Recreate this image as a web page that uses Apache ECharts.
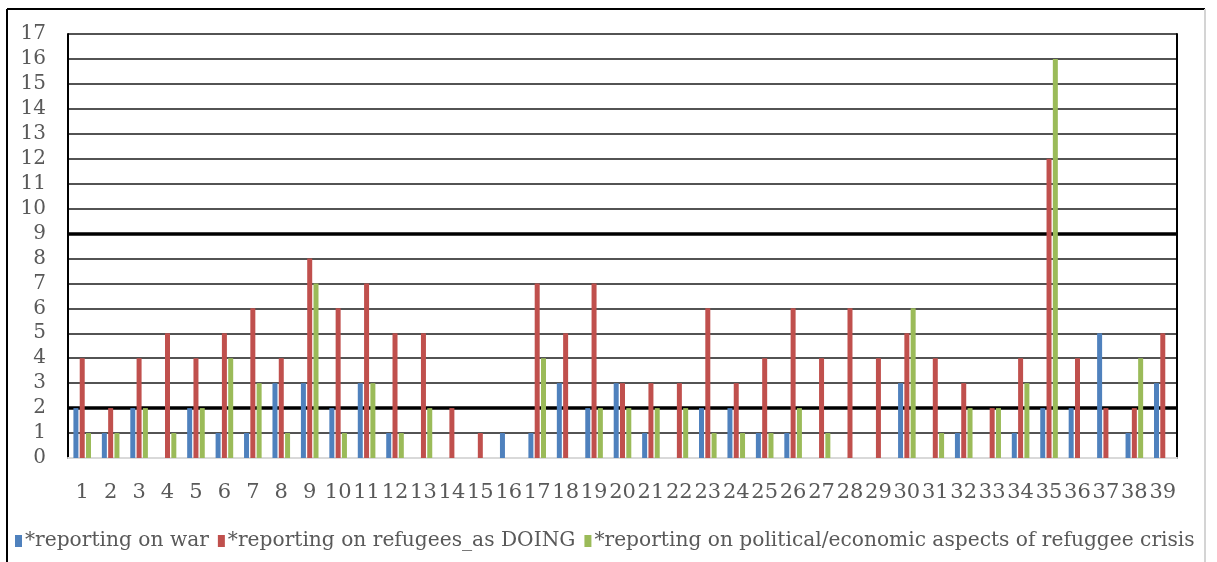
<!DOCTYPE html>
<html>
<head>
<meta charset="utf-8">
<script src="https://cdn.jsdelivr.net/npm/echarts@6/dist/echarts.min.js"></script>
<style>
html,body{margin:0;padding:0;background:#fff;}
#chart{width:1217px;height:562px;}
</style>
</head>
<body>
<div id="chart"></div>
<script>
var categories = ['1','2','3','4','5','6','7','8','9','10','11','12','13','14','15','16','17','18','19','20','21','22','23','24','25','26','27','28','29','30','31','32','33','34','35','36','37','38','39'];
var seriesNames = ['*reporting on war', '*reporting on refugees_as DOING', '*reporting on political/economic aspects of refuggee crisis'];
var war      = [2,1,2,0,2,1,1,3,3,2,3,1,0,0,0,1,1,3,2,3,1,0,2,2,1,1,0,0,0,3,0,1,0,1,2,2,5,1,3];
var doing    = [4,2,4,5,4,5,6,4,8,6,7,5,5,2,1,0,7,5,7,3,3,3,6,3,4,6,4,6,4,5,4,3,2,4,12,4,2,2,5];
var political= [1,1,2,1,2,4,3,1,7,1,3,1,2,0,0,0,4,0,2,2,2,2,1,1,1,2,1,0,0,6,1,2,2,3,16,0,0,4,0];
var yTicks = {min: 0, max: 17, interval: 1};
var thickLines = [2, 9];

var fontFam = 'DejaVu Serif';
var chart = echarts.init(document.getElementById('chart'));
function bar(name, data, color, withMark) {
  var s = {
    name: name, type: 'bar', data: data, barWidth: 5, barGap: '26%',
    itemStyle: {color: color}, z: 3
  };
  if (withMark) {
    s.markLine = {
      silent: true, symbol: 'none', z: 1,
      label: {show: false},
      lineStyle: {color: '#000', width: 3.5, type: 'solid'},
      data: thickLines.map(function (v) { return {yAxis: v}; })
    };
  }
  return s;
}
chart.setOption({
  animation: false,
  backgroundColor: '#fff',
  grid: {left: 68, right: 40, top: 34, bottom: 104},
  graphic: [
    {type: 'line', shape: {x1: 7, y1: 9, x2: 7, y2: 562}, style: {stroke: '#000', lineWidth: 2}},
    {type: 'line', shape: {x1: 7, y1: 9, x2: 1205, y2: 9}, style: {stroke: '#000', lineWidth: 2}},
    {type: 'line', shape: {x1: 1205, y1: 9, x2: 1205, y2: 562}, style: {stroke: '#d4d4d4', lineWidth: 2}}
  ],
  legend: {
    data: seriesNames, left: 10, bottom: 6, itemWidth: 7, itemHeight: 12, itemGap: 9, icon: 'rect',
    textStyle: {fontFamily: fontFam, fontSize: 20.2, color: '#595959', padding: [0, 0, 0, -2]}
  },
  xAxis: {
    type: 'category', data: categories,
    axisLine: {lineStyle: {color: '#d9d9d9', width: 2}},
    axisTick: {show: false},
    axisLabel: {interval: 0, margin: 24, fontFamily: fontFam, fontSize: 21, color: '#595959'}
  },
  yAxis: [{
    type: 'value', min: yTicks.min, max: yTicks.max, interval: yTicks.interval,
    axisLine: {show: true, lineStyle: {color: '#000', width: 2}},
    axisTick: {show: false},
    axisLabel: {margin: 22, fontFamily: fontFam, fontSize: 20, color: '#595959'},
    splitLine: {lineStyle: {color: '#1a1a1a', width: 1.6}}
  }, {
    type: 'value', position: 'right', min: yTicks.min, max: yTicks.max, interval: yTicks.interval,
    axisLine: {show: true, lineStyle: {color: '#000', width: 2}},
    axisTick: {show: false}, axisLabel: {show: false}, splitLine: {show: false}
  }],
  series: [
    bar(seriesNames[0], war, '#4F81BD', true),
    bar(seriesNames[1], doing, '#C0504D', false),
    bar(seriesNames[2], political, '#9BBB59', false)
  ]
});
</script>
</body>
</html>
